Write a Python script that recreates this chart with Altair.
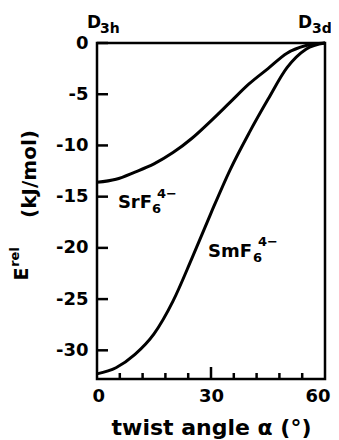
import altair as alt
import pandas as pd

# ---- data ----
alpha = [0, 5, 10, 15, 20, 25, 30, 35, 40, 45, 50, 55, 60]
srf6 = [-13.6, -13.3, -12.6, -11.8, -10.7, -9.3, -7.6, -5.8, -4.0, -2.5, -1.0, -0.25, 0.0]
smf6 = [-32.3, -31.7, -30.4, -28.4, -25.2, -21.0, -16.6, -12.4, -8.8, -5.5, -2.4, -0.6, 0.0]

y_ticks = [0, -5, -10, -15, -20, -25, -30]
x_labels = [0, 30, 60]
x_minor_ticks = [6, 12, 18, 24, 36, 42, 48, 54]
x_major_ticks = [30]

FONT = "DejaVu Sans"
W, H = 228, 336

df = pd.DataFrame({
    "a": alpha * 2,
    "E": srf6 + smf6,
    "s": ["SrF6"] * len(alpha) + ["SmF6"] * len(alpha),
})

x_scale = alt.Scale(domain=[0, 60], nice=False, zero=False)
y_scale = alt.Scale(domain=[-32.8, 0], nice=False, zero=False)

x_axis = alt.Axis(
    values=x_labels, title="twist angle α (°)", domain=False, ticks=False,
    grid=False, labelFont=FONT, labelFontWeight="bold", labelFontSize=18,
    labelColor="black", labelPadding=8, labelFlush=True, labelFlushOffset=5,
    labelOverlap=False, titleFont=FONT, titleFontWeight="bold",
    titleFontSize=22, titleColor="black", titlePadding=12)
y_axis = alt.Axis(
    values=y_ticks, title="", domain=False, ticks=False, grid=False,
    labelFont=FONT, labelFontWeight="bold", labelFontSize=18,
    labelColor="black", labelPadding=9, labelFlush=False,
    labelExpr="datum.value == 0 ? '0' : '-' + abs(datum.value)")


def X():
    return alt.X("a:Q", scale=x_scale, axis=x_axis)


def Y():
    return alt.Y("E:Q", scale=y_scale, axis=y_axis)


lines = alt.Chart(df).mark_line(
    color="black", strokeWidth=3, interpolate="monotone"
).encode(x=X(), y=Y(), detail="s:N")

left_ticks = alt.Chart(pd.DataFrame({"E": y_ticks})).mark_rule(
    color="black", strokeWidth=2.5
).encode(y=Y(), x=alt.value(0), x2=alt.value(11))

bottom_minor = alt.Chart(pd.DataFrame({"a": x_minor_ticks})).mark_rule(
    color="black", strokeWidth=2.5
).encode(x=X(), y=alt.value(H), y2=alt.value(H - 6))

bottom_major = alt.Chart(pd.DataFrame({"a": x_major_ticks})).mark_rule(
    color="black", strokeWidth=2.5
).encode(x=X(), y=alt.value(H), y2=alt.value(H - 12))


def label(text, a, e, size, dx, dy):
    return alt.Chart(pd.DataFrame({"a": [a], "E": [e], "t": [text]})).mark_text(
        font=FONT, fontWeight="bold", fontSize=size, color="black",
        align="left", baseline="alphabetic", dx=dx, dy=dy
    ).encode(x=X(), y=Y(), text="t:N")


annotations = [
    label("SrF", 5.5, -16.1, 18, 0, 0),
    label("6", 5.5, -16.1, 13, 34, 5),
    label("4−", 5.5, -16.1, 13, 39, -10),
    label("SmF", 29.2, -20.9, 18, 0, 0),
    label("6", 29.2, -20.9, 13, 45, 5),
    label("4−", 29.2, -20.9, 13, 50, -11),
    label("D", 0, 0, 17, -10, -15),
    label("3h", 0, 0, 14, 3, -10),
    label("D", 60, 0, 17, -27, -15),
    label("3d", 60, 0, 14, -13, -10),
]


def ytitle(text, px, py, size):
    return alt.Chart(pd.DataFrame({"t": [text]})).mark_text(
        font=FONT, fontWeight="bold", fontSize=size, color="black",
        angle=270, align="center", baseline="middle"
    ).encode(x=alt.value(px), y=alt.value(py), text="t:N")


ytitles = [
    ytitle("E", -75, 231, 19),
    ytitle("rel", -82, 214, 13),
    ytitle("(kJ/mol)", -67, 131, 20),
]

chart = alt.layer(
    lines, left_ticks, bottom_minor, bottom_major, *annotations, *ytitles
).properties(
    width=W, height=H, autosize="none",
    padding={"left": 89, "top": 35, "right": 6, "bottom": 60},
).configure_view(stroke="black", strokeWidth=2.5)

chart.save("out.html", embed_options={"renderer": "svg", "actions": False})
